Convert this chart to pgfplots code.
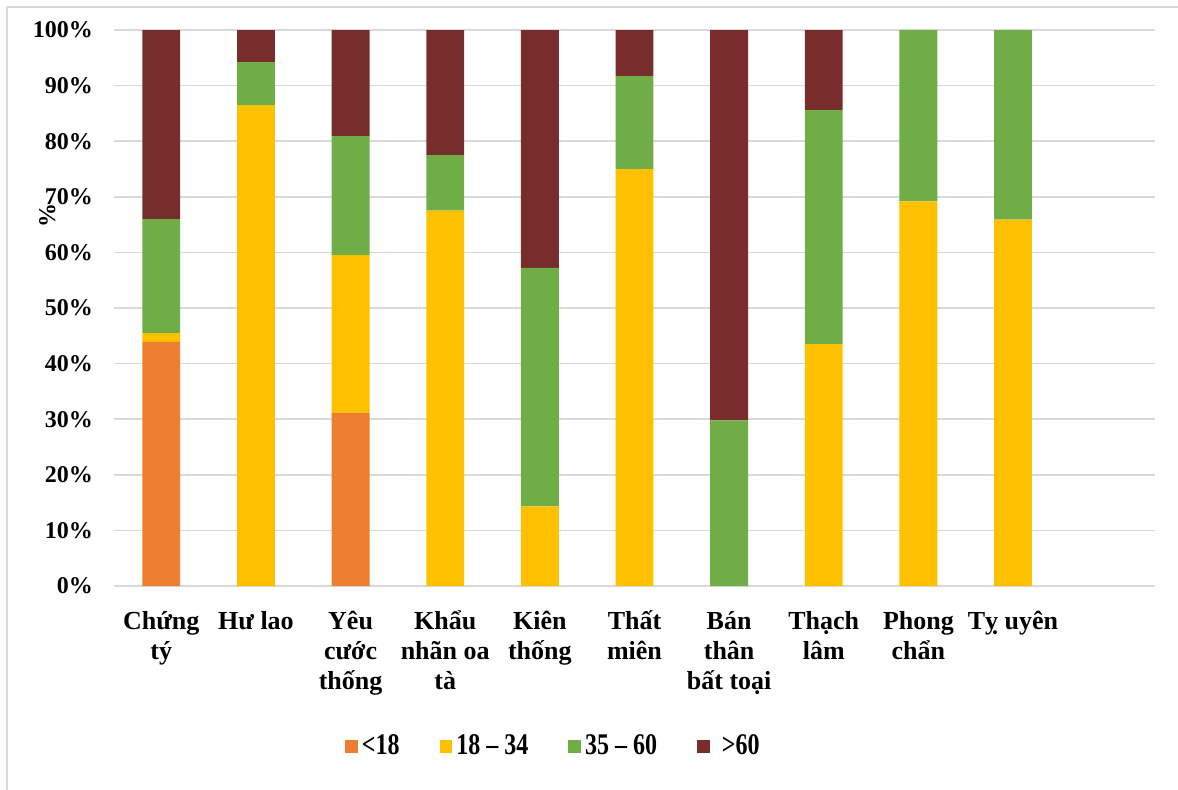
\documentclass[border=0pt]{standalone}
\usepackage{pgfplots}
\pgfplotsset{compat=1.18}
\usepackage{pgfplotstable}
\usepackage{fontspec}
\setmainfont{Liberation Serif}
\definecolor{cOr}{HTML}{ED7D31}
\definecolor{cYe}{HTML}{FFC000}
\definecolor{cGr}{HTML}{70AD47}
\definecolor{cDr}{HTML}{782C2B}
\definecolor{cGrid}{HTML}{D9D9D9}
\pgfplotstableread{
idx a b c d
0 43.9 1.6 20.5 34.0
1 0 86.5 7.7 5.8
2 31.1 28.4 21.4 19.1
3 0 67.5 10.0 22.5
4 0 14.3 42.9 42.8
5 0 75.0 16.7 8.3
6 0 0 29.8 70.2
7 0 43.5 42.1 14.4
8 0 69.2 30.8 0
9 0 65.9 34.1 0
}\datatable
\newcommand{\legtxt}[1]{\scalebox{1}[1.25]{#1}}
\begin{document}
\begin{tikzpicture}
\useasboundingbox (0,0) rectangle (589pt,394.5pt);
\draw[cGrid, line width=0.8pt] (3.5pt,-1pt) -- (3.5pt,391pt) -- (590pt,391pt);
\begin{axis}[
  at={(57pt,101.5pt)}, anchor=south west,
  scale only axis, width=520.5pt, height=278pt,
  ybar stacked, bar width=0.4,
  xmin=-0.5, xmax=10.5, ymin=0, ymax=100,
  xtick={0,...,9},
  xticklabels={{Chứng\\tý},{Hư lao},{Yêu\\cước\\thống},{Khẩu\\nhãn oa\\tà},{Kiên\\thống},{Thất\\miên},{Bán\\thân\\bất toại},{Thạch\\lâm},{Phong\\chẩn},{Tỵ uyên}},
  ytick={0,10,...,100},
  yticklabels={0\%,10\%,20\%,30\%,40\%,50\%,60\%,70\%,80\%,90\%,100\%},
  major tick length=0pt,
  axis line style={draw=none},
  ymajorgrids, grid style={cGrid, line width=0.8pt},
  yticklabel style={font=\bfseries\fontsize{12}{14}\selectfont, anchor=east, xshift=-7pt},
  xticklabel style={font=\bfseries\fontsize{13}{15}\selectfont, align=center, anchor=north, yshift=-9pt},
  ylabel={\%},
  ylabel style={font=\bfseries\fontsize{12}{14}\selectfont, at={(axis description cs:-0.064,0.667)}, anchor=center},
  legend columns=4,
  legend style={draw=none, at={(axis description cs:0.423,-0.288)}, anchor=center,
    font=\bfseries\fontsize{12}{14}\selectfont,
    /tikz/every even column/.append style={column sep=18pt}},
  legend image code/.code={\fill[#1] (0pt,-3.2pt) rectangle (6.4pt,3.2pt);},
  every axis plot/.append style={draw=none},
]
\addplot[fill=cOr] table[x=idx,y=a] {\datatable};
\addplot[fill=cYe] table[x=idx,y=b] {\datatable};
\addplot[fill=cGr] table[x=idx,y=c] {\datatable};
\addplot[fill=cDr] table[x=idx,y=d] {\datatable};
\legend{{\legtxt{<18}},{\legtxt{18 – 34}},{\legtxt{35 – 60}},{\hspace{4pt}\legtxt{>60}}}
\end{axis}
\end{tikzpicture}
\end{document}
